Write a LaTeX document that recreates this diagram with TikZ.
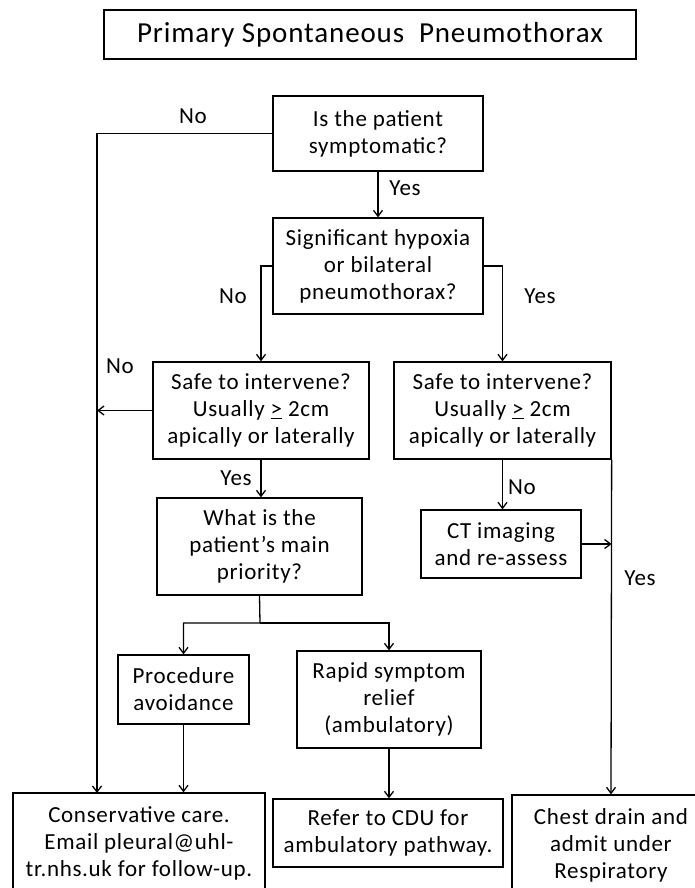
\documentclass[tikz,border=0pt]{standalone}
\usepackage{fontspec}
\setmainfont{Carlito}[LetterSpace=3]
\usepackage{tikz}
\usetikzlibrary{arrows.meta}
\def\atleast{\underline{>}}

\begin{document}
\begin{tikzpicture}[x=1pt,y=-1pt,->,>={Straight Barb[length=6pt,width=9pt]},line width=1.3pt,
                    main node/.style={draw,align=center,inner sep=0pt,font=\fontsize{23}{27}\selectfont},
                    label node/.style={font=\fontsize{23}{27}\selectfont}]
  \useasboundingbox (0,0) rectangle (694,888);

  \node[main node,minimum width=532,minimum height=49,font=\fontsize{29}{32}\selectfont] (1) at (370,34.5) {Primary Spontaneous\ \ Pneumothorax};
  \node[main node,minimum width=210,minimum height=75] (2) at (378,133.5) {Is the patient\\symptomatic?};
  \node[main node,minimum width=210,minimum height=96] (3) at (378,266) {Significant hypoxia\\or bilateral\\pneumothorax?};
  \node[main node,minimum width=216,minimum height=97] (4) at (261,410.5) {Safe to intervene?\\Usually \atleast\ 2cm\\apically or laterally};
  \node[main node,minimum width=217,minimum height=97] (5) at (502.5,410.5) {Safe to intervene?\\Usually \atleast\ 2cm\\apically or laterally};
  \node[main node,minimum width=160,minimum height=68] (6) at (501,544) {CT imaging\\and re-assess};
  \node[main node,minimum width=205,minimum height=97] (7) at (259.5,546.5) {What is the\\patient’s main\\priority?};
  \node[main node,minimum width=131,minimum height=69] (8) at (183.5,689.5) {Procedure\\avoidance};
  \node[main node,minimum width=252,minimum height=100] (9) at (139,843) {Conservative care.\\Email pleural@uhl-\\tr.nhs.uk for follow-up.};
  \node[main node,minimum width=184,minimum height=97] (10) at (389,699.5) {Rapid symptom\\relief\\(ambulatory)};
  \node[main node,minimum width=230,minimum height=68] (11) at (388,833) {Refer to CDU for\\ambulatory pathway.};
  \node[main node,minimum width=198,minimum height=100] (12) at (611,845) {Chest drain and\\admit under\\Respiratory};

  \coordinate (a) at (97,793);
  \coordinate (m) at (260,623);

  \node[label node] (n1) at (193,116) {No};
  \node[label node] (y1) at (405,188) {Yes};
  \node[label node] (n2) at (233,296) {No};
  \node[label node] (y2) at (540,296) {Yes};
  \node[label node] (n3) at (120,366) {No};
  \node[label node] (y3) at (236,478) {Yes};
  \node[label node] (n4) at (522,487) {No};
  \node[label node] (y4) at (640,578) {Yes};

  \draw (2.west) -| (a);
  \draw (2) -- (3);
  \draw (3.west) -| (4.north);
  \draw (3.east) -| (5.north);
  \draw (4.west) -- (4.west -| a);
  \draw (4.south) -- (4.south |- 7.north);
  \draw (5.south) -- (5.south |- 6.north);
  \draw (5.south east) -- (12.north);
  \draw (6.east) -- (6.east -| 5.south east);
  \draw (7.south) -- (m) -| (8.north);
  \draw (m) -| (10.north);
  \draw (8.south) -- (8.south |- 9.north);
  \draw (10.south) -- (10.south |- 11.north);
\end{tikzpicture}
\end{document}
